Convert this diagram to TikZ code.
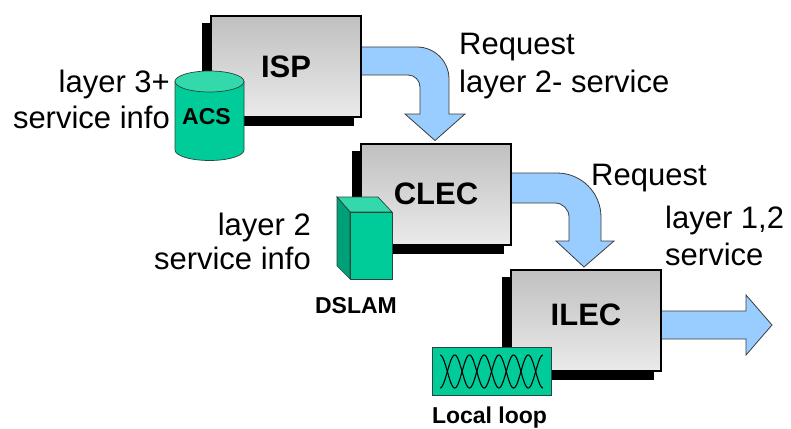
\documentclass[tikz,border=0pt]{standalone}
\usepackage{fontspec}
\setmainfont{Liberation Sans}
\usetikzlibrary{calc,shadows}
\definecolor{boxtop}{RGB}{192,192,192}
\definecolor{boxbot}{RGB}{234,234,234}
\definecolor{arrowblue}{RGB}{153,204,255}
\definecolor{arrowline}{RGB}{60,60,60}
\definecolor{devgreen}{RGB}{0,204,153}
\definecolor{devlight}{RGB}{51,217,170}
\definecolor{devdark}{RGB}{0,160,120}
\definecolor{devline}{RGB}{40,70,60}
\pgfdeclarelayer{background}
\pgfsetlayers{background,main}
\tikzset{
 orgbox/.style={rectangle, draw=black, line width=2pt, top color=boxtop, bottom color=boxbot,
   minimum width=150pt, minimum height=101pt, inner sep=0pt, outer sep=0pt,
   font=\fontsize{31}{36}\selectfont\bfseries,
   general shadow={fill=black, draw=black, line width=2pt, shadow xshift=-8pt, shadow yshift=-8pt}},
 fatarrow/.style={fill=arrowblue, draw=arrowline, line width=0.8pt, line join=miter},
 lbl/.style={inner sep=0pt, font=\fontsize{31}{36}\selectfont},
 devlbl/.style={inner sep=0pt, font=\fontsize{23}{26}\selectfont\bfseries},
 dev/.style={draw=devline, line width=0.7pt},
}
\begin{document}
\begin{tikzpicture}[x=1pt,y=-1pt]
\useasboundingbox (0,0) rectangle (791,428);
% organisation boxes
\node[orgbox] (isp) at (286,66.5) {ISP};
\node[orgbox] (clec) at (436,194) {CLEC};
\node[orgbox, text depth=10pt] (ilec) at (586,320) {ILEC};
% fat arrows
\coordinate (svc) at (772,325);
\begin{pgfonlayer}{background}
\draw[fatarrow] ($(isp.north east)+(0,31)$) -- (417,47)
  .. controls (434.7,47) and (449,61.3) .. (449,79) -- (449,114) -- (465,114)
  -- ($(clec.north)+(-1,-3)$) -- (405,114) -- (420,114) -- (420,87)
  .. controls (420,80.4) and (414.6,75) .. (408,75) -- ($(isp.north east)+(0,59)$) -- cycle;
\draw[fatarrow] ($(clec.north east)+(0,29.5)$) -- (557,173)
  .. controls (581.3,173) and (601,192.7) .. (601,217) -- (601,241) -- (614,241)
  -- ($(ilec.north)+(-2,-2.5)$) -- (556,241) -- (569,241) -- (569,217)
  .. controls (569,209.3) and (562.7,203) .. (555,203) -- ($(clec.north east)+(0,59.5)$) -- cycle;
\draw[fatarrow] ($(ilec.east)+(0,-9)$) -- (746,311) -- (746,295) -- (svc) -- (746,355)
  -- (746,339) -- ($(ilec.east)+(0,19)$) -- cycle;
\end{pgfonlayer}
% ACS cylinder
\filldraw[dev, fill=devgreen] (175,81.5) -- (175,150)
  .. controls (175,155.8) and (190.45,160.5) .. (209.5,160.5)
  .. controls (228.55,160.5) and (244,155.8) .. (244,150) -- (244,81.5) -- cycle;
\filldraw[dev, fill=devlight] (209.5,81.5) ellipse [x radius=34.5pt, y radius=10.5pt];
\node[devlbl] (acs) at (206.5,117) {ACS};
% DSLAM block
\filldraw[dev, fill=devlight] (337,197) -- (378,197) -- (392,212) -- (350,212) -- cycle;
\filldraw[dev, fill=devdark] (337,197) -- (350,212) -- (350,279) -- (337,266) -- cycle;
\filldraw[dev, fill=devgreen] (350,212) rectangle (392,279);
\node[devlbl, anchor=base] (dslam) at (356,313) {DSLAM};
% Local loop
\filldraw[draw=devline, line width=0.8pt, fill=devgreen] (432,347) rectangle (551,395);
\draw[line width=1.1pt] plot[domain=0:1, samples=120, smooth] ({440+103*\x},{371.5+16.5*cos(1260*\x)});
\draw[line width=1.1pt] plot[domain=0:1, samples=120, smooth] ({440+103*\x},{371.5-16.5*cos(1260*\x)});
\node[devlbl, anchor=base] (loop) at (489.5,423) {Local loop};
% text labels
\node[lbl, anchor=base east, align=right] (info3) at (170,128) {layer 3+\\service info};
\node[lbl, anchor=base east, align=right, font=\fontsize{31}{34}\selectfont] (info2) at (311,269) {layer 2\\service info};
\node[lbl, anchor=base west, align=left, font=\fontsize{31}{37}\selectfont] (req1) at (459,92) {Request\\layer 2- service};
\node[lbl, anchor=base west] (req2) at (591,185) {Request};
\node[lbl, anchor=base west, align=left, font=\fontsize{31}{37}\selectfont] (svc12) at (665,265) {layer 1,2\\service};
\end{tikzpicture}
\end{document}
